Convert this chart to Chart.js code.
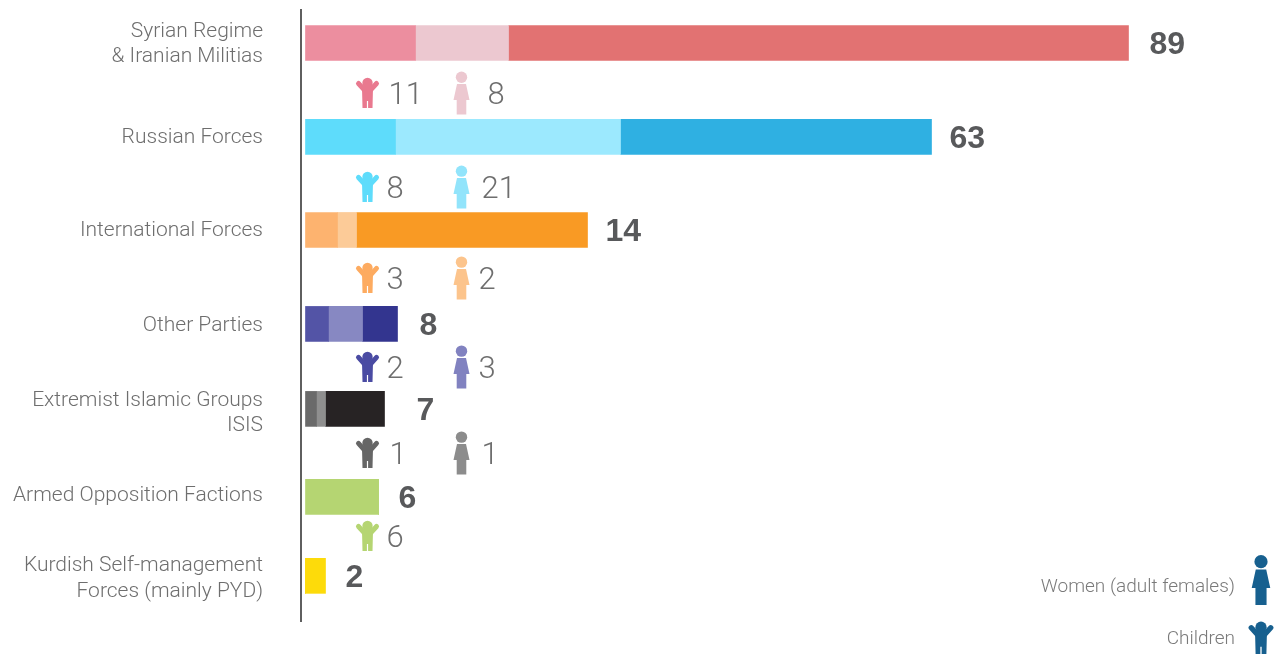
<!DOCTYPE html>
<html>
<head>
<meta charset="utf-8">
<title>Deaths by party</title>
<script src="https://cdn.jsdelivr.net/npm/chart.js@4"></script>
<style>
    html, body { margin: 0; padding: 0; background: #fff; overflow: hidden; }
    #wrap { width: 1276px; height: 654px; }
</style>
</head>
<body>
<div id="wrap"><canvas id="partyChart" width="1276" height="654"></canvas></div>
<script>
const categories = [
    ["Syrian Regime", "& Iranian Militias"],
    "Russian Forces",
    "International Forces",
    "Other Parties",
    ["Extremist Islamic Groups", "ISIS"],
    "Armed Opposition Factions",
    ["Kurdish Self-management", "Forces (mainly PYD)"]
];

// numbers printed on the picture
const totals = [89, 63, 14, 8, 7, 6, 2];
const childrenCounts = [11, 8, 3, 2, 1, 6, null];
const womenCounts = [8, 21, 2, 3, 1, null, null];

// segment lengths as drawn. the original bars are not to scale with the printed numbers
const childrenBars = [11.0, 9.0, 3.2, 2.3, 1.1, 7.3, 0];
const womenBars = [9.3, 22.5, 1.9, 3.4, 0.9, 0, 0];
const restBars = [62.0, 31.1, 23.1, 3.5, 5.9, 0, 2.0];

// rows are not evenly spaced in the original
const rowPositions = [0, 1.003, 1.996, 2.999, 3.906, 4.845, 5.688];
const labelPositions = [0.011, 1.014, 2.007, 3.02, 3.949, 4.834, 5.72];
const iconPositions = [0.534, 1.537, 2.508, 3.458, 4.376, 5.262];

const childrenColors = ["#ec8e9f", "#5edcfb", "#fdb36f", "#5354a6", "#6a6a6a", "#b5d572", "#fddb0a"];
const womenColors = ["#ecc8d0", "#9ce9fe", "#fccb98", "#8788c2", "#8f8f8f", "#b5d572", "#fddb0a"];
const restColors = ["#e27272", "#2fb0e2", "#f99a24", "#33358f", "#272324", "#b5d572", "#fddb0a"];
const childIconColors = ["#e9798f", "#5edcfb", "#fdab60", "#4a4ba3", "#666666", "#b5d572"];
const womanIconColors = ["#ecc8d0", "#92e4fb", "#fcc48c", "#8182c0", "#8c8c8c"];

const totalGaps = [21, 18, 18, 22, 32, 20, 20];
const childNumberGaps = [21, 19, 19, 19, 22, 19];
const womanNumberGaps = [26, 20, 17, 17, 20];

const labelGray = "#6e6e6e";

function drawChild(ctx, x, y, s, color) {
    ctx.save();
    ctx.translate(x, y);
    ctx.scale(s, s);
    ctx.fillStyle = color;
    ctx.strokeStyle = color;
    ctx.beginPath();
    ctx.arc(0, -10, 5.2, 0, Math.PI * 2);
    ctx.fill();
    ctx.lineWidth = 5;
    ctx.lineCap = "round";
    ctx.beginPath();
    ctx.moveTo(-9, -9.5);
    ctx.lineTo(-3.5, -3.5);
    ctx.lineTo(3.5, -3.5);
    ctx.lineTo(9, -9.5);
    ctx.stroke();
    ctx.beginPath();
    ctx.moveTo(-5.5, -5);
    ctx.lineTo(5.5, -5);
    ctx.lineTo(5, 15);
    ctx.lineTo(0.6, 15);
    ctx.lineTo(0.6, 8);
    ctx.lineTo(-0.6, 8);
    ctx.lineTo(-0.6, 15);
    ctx.lineTo(-5, 15);
    ctx.closePath();
    ctx.fill();
    ctx.restore();
}

function drawWoman(ctx, x, y, s, color) {
    ctx.save();
    ctx.translate(x, y);
    ctx.scale(s, s);
    ctx.fillStyle = color;
    ctx.beginPath();
    ctx.arc(0, -15.8, 5.7, 0, Math.PI * 2);
    ctx.fill();
    ctx.beginPath();
    ctx.moveTo(-4.5, -9);
    ctx.lineTo(4.5, -9);
    ctx.lineTo(8, 7);
    ctx.lineTo(4.8, 7);
    ctx.lineTo(4.8, 21.5);
    ctx.lineTo(-4.8, 21.5);
    ctx.lineTo(-4.8, 7);
    ctx.lineTo(-8, 7);
    ctx.closePath();
    ctx.fill();
    ctx.restore();
}

const annotations = {
    id: "annotations",
    afterDatasetsDraw(chart) {
        const ctx = chart.ctx;
        const xs = chart.scales.x;
        const ys = chart.scales.y;
        const childX = xs.getPixelForValue(6.2);
        const womanX = xs.getPixelForValue(15.6);

        ctx.save();
        ctx.textBaseline = "middle";
        ctx.textAlign = "left";

        // totals at the end of each bar
        ctx.fillStyle = "#58595b";
        ctx.font = "bold 32px 'Liberation Sans', Arial, sans-serif";
        totals.forEach((total, i) => {
            const end = childrenBars[i] + womenBars[i] + restBars[i];
            ctx.fillText(total, xs.getPixelForValue(end) + totalGaps[i], ys.getPixelForValue(rowPositions[i]) + 2);
        });

        // pictograms with their counts
        ctx.font = "300 31px Roboto, 'Liberation Sans', sans-serif";
        iconPositions.forEach((pos, i) => {
            const y = ys.getPixelForValue(pos);
            if (childrenCounts[i] !== null) {
                drawChild(ctx, childX, y, 1, childIconColors[i]);
                ctx.fillStyle = labelGray;
                ctx.fillText(childrenCounts[i], childX + childNumberGaps[i], y + 3);
            }
            if (womenCounts[i] !== null) {
                drawWoman(ctx, womanX, y, 1, womanIconColors[i]);
                ctx.fillStyle = labelGray;
                ctx.fillText(womenCounts[i], womanX + womanNumberGaps[i], y + 3);
            }
        });

        // key, bottom right
        ctx.textAlign = "right";
        ctx.font = "300 19px Roboto, 'Liberation Sans', sans-serif";
        ctx.fillStyle = "#7a7a7a";
        ctx.fillText("Women (adult females)", 1235, 587);
        ctx.fillText("Children", 1235, 639);
        drawWoman(ctx, 1261, 580, 1.16, "#17608f");
        drawChild(ctx, 1261, 638, 1.08, "#17608f");
        ctx.restore();
    }
};

const barChart = new Chart(document.getElementById("partyChart"), {
    type: "bar",
    plugins: [annotations],
    data: {
        datasets: [{
            label: "Children",
            data: childrenBars.map((v, i) => ({ x: v, y: rowPositions[i] })),
            backgroundColor: childrenColors
        }, {
            label: "Women (adult females)",
            data: womenBars.map((v, i) => ({ x: v, y: rowPositions[i] })),
            backgroundColor: womenColors
        }, {
            label: "Others",
            data: restBars.map((v, i) => ({ x: v, y: rowPositions[i] })),
            backgroundColor: restColors
        }]
    },
    options: {
        indexAxis: "y",
        responsive: false,
        animation: false,
        barThickness: 35,
        borderWidth: 0,
        layout: {
            padding: { top: 10, bottom: 33, left: 0, right: 0 }
        },
        plugins: {
            legend: { display: false },
            tooltip: { enabled: false }
        },
        scales: {
            x: {
                type: "linear",
                stacked: true,
                display: false,
                min: -0.45,
                max: 97.05
            },
            y: {
                type: "linear",
                stacked: true,
                reverse: true,
                offset: false,
                min: -0.352,
                max: 6.17,
                afterBuildTicks: scale => {
                    scale.ticks = labelPositions.map(v => ({ value: v }));
                },
                afterFit: scale => {
                    scale.width = 301;
                    scale.paddingTop = 0;
                    scale.paddingBottom = 0;
                },
                grid: { display: false, drawTicks: false, offset: false },
                border: { display: true, color: "#5f5f5f", width: 2 },
                ticks: {
                    autoSkip: false,
                    padding: 38,
                    color: labelGray,
                    font: { family: "Roboto, 'Liberation Sans', sans-serif", size: 21, weight: "300", lineHeight: 1.2 },
                    callback: (value, index) => categories[index]
                }
            }
        }
    }
});
</script>
</body>
</html>
